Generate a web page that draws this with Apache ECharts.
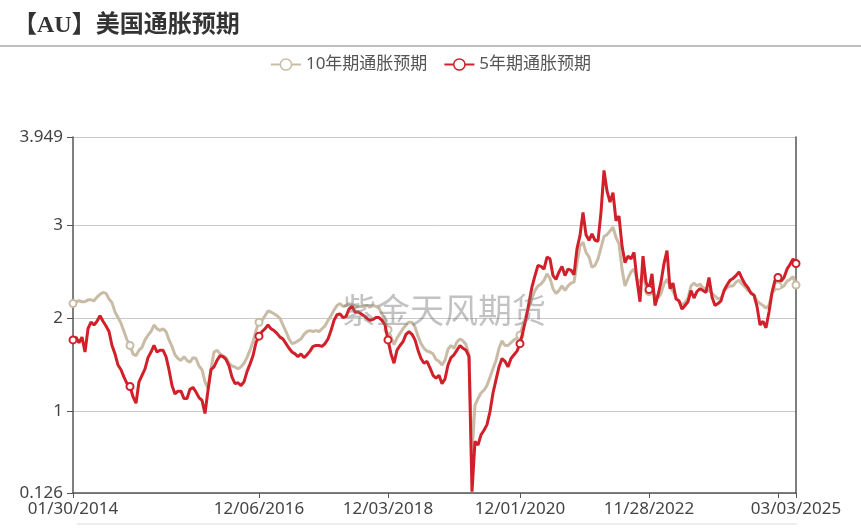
<!DOCTYPE html>
<html><head><meta charset="utf-8">
<script src="https://cdn.jsdelivr.net/npm/echarts@6/dist/echarts.min.js"></script>
<style>html,body{margin:0;padding:0;background:#fff}#c{width:861px;height:531px}</style>
</head><body><div id="c"></div>
<script>
const chartTitle = '【AU】美国通胀预期';
const seriesNames = ['10年期通胀预期', '5年期通胀预期'];
const watermarkText = '紫金天风期货';
const startDate = '2014-01-30';
const endDate = '2025-03-03';
const labelIndex = [0, 62, 105, 149, 192, 241];
const tickLabels = ['01/30/2014', '12/06/2016', '12/03/2018', '12/01/2020', '11/28/2022', '03/03/2025'];
const tickIndex = [0, 62, 105, 149, 192, 235, 241];
const symbolIndex = [0, 19, 62, 105, 149, 192, 235, 241];
const yMin = 0.126;
const yMax = 3.949;

const tenYear = [
2.16,2.18,2.19,2.18,2.18,2.20,2.20,2.19,2.23,2.26,
2.28,2.27,2.21,2.17,2.07,2.01,1.95,1.86,1.77,1.71,
1.62,1.60,1.66,1.69,1.77,1.82,1.86,1.93,1.89,1.87,
1.89,1.86,1.77,1.70,1.61,1.57,1.55,1.59,1.55,1.53,
1.58,1.57,1.49,1.45,1.32,1.25,1.46,1.64,1.66,1.62,
1.60,1.58,1.52,1.49,1.48,1.46,1.48,1.52,1.58,1.66,
1.75,1.87,1.96,1.98,2.03,2.08,2.07,2.05,2.03,2.00,
1.93,1.86,1.78,1.73,1.74,1.76,1.78,1.83,1.86,1.87,
1.86,1.87,1.86,1.89,1.92,1.98,2.03,2.09,2.14,2.16,
2.13,2.14,2.16,2.15,2.13,2.13,2.13,2.13,2.14,2.12,
2.14,2.13,2.11,2.05,1.98,1.88,1.80,1.72,1.79,1.84,
1.89,1.93,1.96,1.96,1.91,1.81,1.73,1.68,1.65,1.64,
1.62,1.56,1.54,1.50,1.55,1.67,1.71,1.68,1.75,1.78,
1.76,1.72,1.61,0.55,1.07,1.14,1.20,1.23,1.28,1.37,
1.46,1.55,1.68,1.76,1.71,1.71,1.74,1.77,1.79,1.82,
1.93,2.03,2.12,2.22,2.30,2.35,2.37,2.41,2.48,2.43,
2.32,2.27,2.30,2.35,2.30,2.35,2.38,2.39,2.59,2.78,
2.82,2.71,2.66,2.55,2.57,2.64,2.76,2.88,2.90,2.94,
2.98,2.87,2.80,2.53,2.35,2.43,2.50,2.53,2.42,2.39,
2.49,2.34,2.29,2.28,2.25,2.22,2.27,2.37,2.42,2.35,
2.29,2.23,2.18,2.15,2.17,2.22,2.35,2.38,2.35,2.37,
2.33,2.32,2.30,2.27,2.24,2.21,2.22,2.29,2.33,2.35,
2.35,2.39,2.41,2.37,2.34,2.30,2.28,2.25,2.19,2.16,
2.14,2.11,2.14,2.27,2.31,2.35,2.33,2.35,2.40,2.42,
2.45,2.36
];

const fiveYear = [
1.77,1.80,1.74,1.80,1.64,1.89,1.96,1.93,1.97,2.03,
1.97,1.92,1.86,1.71,1.62,1.50,1.45,1.37,1.30,1.27,
1.16,1.09,1.32,1.39,1.46,1.58,1.64,1.71,1.64,1.66,
1.66,1.59,1.45,1.28,1.19,1.22,1.22,1.14,1.14,1.24,
1.26,1.21,1.15,1.12,0.98,1.23,1.45,1.48,1.55,1.60,
1.59,1.56,1.49,1.37,1.30,1.31,1.28,1.32,1.43,1.51,
1.60,1.74,1.81,1.86,1.89,1.93,1.89,1.87,1.84,1.80,
1.78,1.73,1.68,1.64,1.62,1.59,1.62,1.58,1.61,1.65,
1.70,1.71,1.71,1.70,1.73,1.78,1.87,1.98,2.04,2.05,
2.01,2.02,2.10,2.13,2.07,2.07,2.05,2.03,2.00,1.98,
1.99,2.01,2.01,1.98,1.93,1.77,1.62,1.52,1.66,1.71,
1.75,1.83,1.86,1.83,1.77,1.66,1.57,1.52,1.54,1.47,
1.39,1.36,1.39,1.30,1.35,1.50,1.58,1.61,1.66,1.71,
1.68,1.66,1.59,0.14,0.68,0.64,0.75,0.80,0.86,1.00,
1.20,1.34,1.48,1.57,1.54,1.48,1.57,1.61,1.65,1.73,
1.86,2.00,2.17,2.34,2.46,2.57,2.56,2.53,2.66,2.64,
2.46,2.42,2.50,2.56,2.46,2.53,2.52,2.47,2.75,2.89,
3.14,2.90,2.84,2.91,2.84,2.83,3.14,3.59,3.37,3.25,
3.35,3.05,3.10,2.78,2.60,2.67,2.64,2.71,2.41,2.18,
2.67,2.39,2.31,2.48,2.14,2.25,2.39,2.59,2.73,2.32,
2.38,2.21,2.19,2.10,2.14,2.18,2.30,2.22,2.29,2.32,
2.30,2.28,2.44,2.23,2.14,2.16,2.19,2.30,2.36,2.41,
2.43,2.46,2.50,2.43,2.37,2.33,2.27,2.25,2.13,1.93,
1.97,1.90,2.07,2.28,2.41,2.44,2.40,2.44,2.53,2.58,
2.64,2.59
];

// category dates (sampled), with tick label dates pinned at their positions
const dayMs = 86400000;
const t0 = Date.parse(startDate + 'T00:00:00Z');
const t1 = Date.parse(endDate + 'T00:00:00Z');
const n = tenYear.length;
const pad = v => (v < 10 ? '0' : '') + v;
const categories = [];
for (let i = 0; i < n; i++) {
  const d = new Date(t0 + Math.round((t1 - t0) / dayMs * i / (n - 1)) * dayMs);
  categories.push(pad(d.getUTCMonth() + 1) + '/' + pad(d.getUTCDate()) + '/' + d.getUTCFullYear());
}
labelIndex.forEach((k, j) => { categories[k] = tickLabels[j]; });

const colors = ['#c9bca6', '#d1202a'];
const latin = '"Noto Sans", "Noto Sans CJK SC", sans-serif';

const chart = echarts.init(document.getElementById('c'), null, {renderer: 'canvas'});
const mkSeries = (name, data, color, z) => ({
  name: name,
  type: 'line',
  data: data,
  z: z,
  showSymbol: true,
  showAllSymbol: true,
  symbol: (v, p) => (symbolIndex.includes(p.dataIndex) ? 'emptyCircle' : 'none'),
  symbolSize: 7,
  lineStyle: {width: 3, color: color},
  itemStyle: {color: color, borderWidth: 1.5},
  emphasis: {disabled: true}
});

chart.setOption({
  animation: false,
  backgroundColor: '#fff',
  title: {
    text: chartTitle, left: 8, top: 9,
    textStyle: {fontFamily: '"Liberation Serif", "Noto Sans CJK SC", serif', fontSize: 24, fontWeight: 'bold', color: '#333'}
  },
  legend: {
    top: 51, left: 'center', itemWidth: 30, itemHeight: 14, itemGap: 16,
    textStyle: {fontSize: 17, color: '#555', fontFamily: latin},
    data: seriesNames.map((nm, k) => ({
      name: nm,
      itemStyle: {color: '#fff', borderColor: colors[k], borderWidth: 1.5},
      lineStyle: {color: colors[k], width: 2}
    }))
  },
  grid: {left: 73, right: 65, top: 137, bottom: 38},
  xAxis: {
    type: 'category', data: categories, boundaryGap: false,
    axisLine: {lineStyle: {color: '#555', width: 1.5}},
    axisTick: {interval: i => tickIndex.includes(i), length: 5, lineStyle: {color: '#555'}},
    axisLabel: {interval: i => labelIndex.includes(i), fontSize: 17, color: '#444', margin: 8, fontFamily: latin},
    splitLine: {show: false}
  },
  yAxis: [{
    type: 'value', min: yMin, max: yMax,
    axisLine: {show: true, lineStyle: {color: '#555', width: 1.5}},
    axisTick: {show: true, length: 6, lineStyle: {color: '#555'}},
    axisLabel: {fontSize: 17, color: '#444', margin: 10, fontFamily: latin},
    splitLine: {lineStyle: {color: '#c8c8c8'}}
  }, {
    type: 'value', position: 'right', min: yMin, max: yMax,
    axisLine: {show: true, lineStyle: {color: '#555', width: 1.5}},
    axisTick: {show: false}, axisLabel: {show: false}, splitLine: {show: false}
  }],
  graphic: [
    {type: 'line', shape: {x1: 0, y1: 46, x2: 861, y2: 46}, style: {stroke: '#aaa', lineWidth: 1.5}},
    {type: 'line', shape: {x1: 77, y1: 524, x2: 797, y2: 524}, style: {stroke: '#ddd', lineWidth: 1}},
    {type: 'text', left: 342, top: 293, z: 100,
     style: {text: watermarkText, font: '34px "Noto Sans CJK SC"', fill: 'rgba(120,120,120,0.45)'}}
  ],
  series: [
    mkSeries(seriesNames[0], tenYear, colors[0], 2),
    mkSeries(seriesNames[1], fiveYear, colors[1], 3)
  ]
});
</script></body></html>
